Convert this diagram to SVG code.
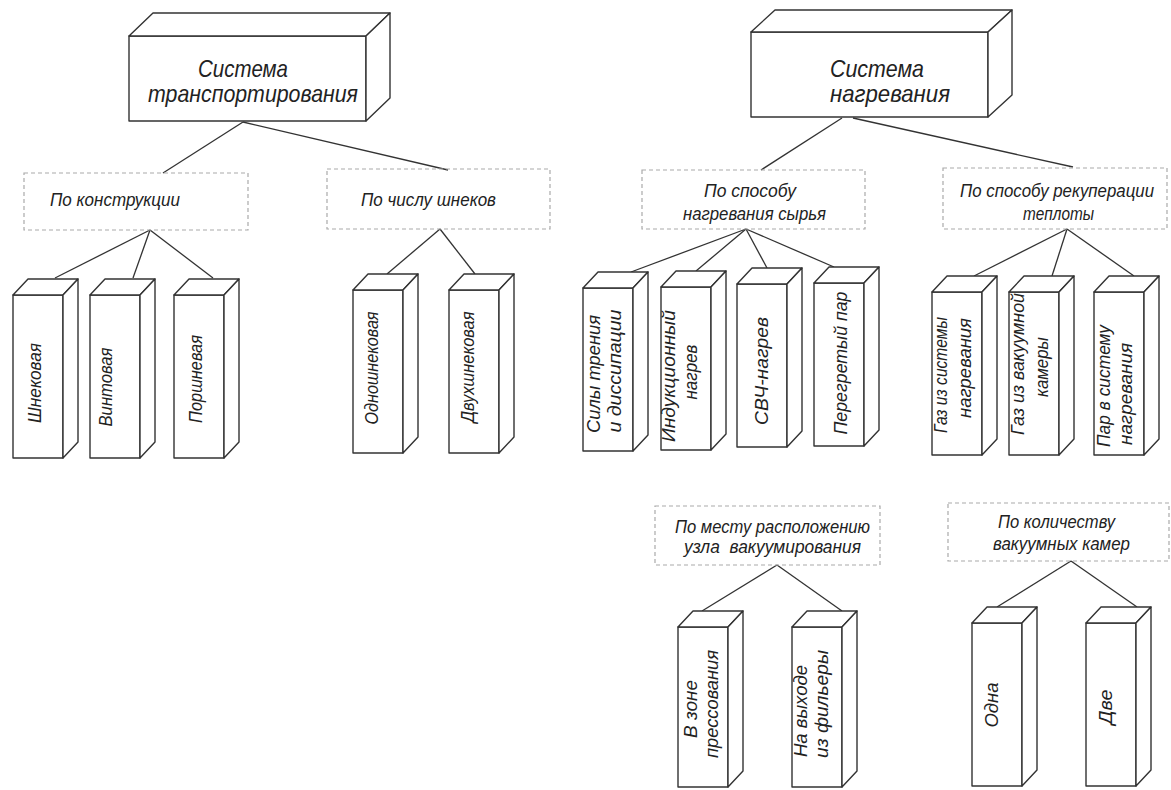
<svg xmlns="http://www.w3.org/2000/svg" width="1171" height="790" viewBox="0 0 1171 790">
<style>
.bx{fill:#fff;stroke:#333;stroke-width:1.4;stroke-linejoin:round}
.dash{fill:none;stroke:#aaa;stroke-width:1.2;stroke-dasharray:4 3}
.cn line{stroke:#333;stroke-width:1.3}
text{font-family:"Liberation Sans","DejaVu Sans",sans-serif;font-style:italic;fill:#222;text-anchor:middle}
.t1{font-size:24px}
.t2{font-size:18px}
.t3{font-size:18px}
</style>
<defs>
<g id="tb">
<rect class="bx" x="0" y="0" width="50" height="163"/>
<polygon class="bx" points="0,0 15,-16 65,-16 50,0"/>
<polygon class="bx" points="50,0 65,-16 65,147 50,163"/>
</g>
<g id="tbs">
<rect class="bx" x="0" y="0" width="50" height="160"/>
<polygon class="bx" points="0,0 15,-16 65,-16 50,0"/>
<polygon class="bx" points="50,0 65,-16 65,144 50,160"/>
</g>
</defs>
<g id="connectors" class="cn">
<line x1="243" y1="122" x2="163" y2="173"/>
<line x1="243" y1="122" x2="448" y2="170"/>
<line x1="150" y1="230" x2="55" y2="278"/>
<line x1="150" y1="230" x2="133" y2="278"/>
<line x1="150" y1="230" x2="213" y2="278"/>
<line x1="440" y1="229" x2="387" y2="274"/>
<line x1="440" y1="229" x2="475" y2="274"/>
<line x1="842" y1="118" x2="761" y2="170"/>
<line x1="853" y1="118" x2="1073" y2="167"/>
<line x1="746" y1="229" x2="631" y2="272"/>
<line x1="746" y1="229" x2="696" y2="271"/>
<line x1="746" y1="229" x2="767" y2="268"/>
<line x1="746" y1="229" x2="834" y2="267"/>
<line x1="1067" y1="229" x2="974" y2="276"/>
<line x1="1067" y1="229" x2="1052" y2="276"/>
<line x1="1067" y1="229" x2="1134" y2="276"/>
<line x1="777" y1="565" x2="702" y2="611"/>
<line x1="777" y1="565" x2="842" y2="611"/>
<line x1="1071" y1="561" x2="997" y2="607"/>
<line x1="1071" y1="561" x2="1137" y2="607"/>
</g>
<g id="sys-transport">
<rect class="bx" x="129" y="36" width="237" height="85"/>
<polygon class="bx" points="129,36 153,13 390,13 366,36"/>
<polygon class="bx" points="366,36 390,13 390,98 366,121"/>
<text class="t1" x="243" y="77" textLength="90" lengthAdjust="spacingAndGlyphs">Система</text>
<text class="t1" x="253" y="102" textLength="210" lengthAdjust="spacingAndGlyphs">транспортирования</text>
</g>
<g id="sys-heat">
<rect class="bx" x="751" y="32" width="237" height="85"/>
<polygon class="bx" points="751,32 775,10 1012,10 988,32"/>
<polygon class="bx" points="988,32 1012,10 1012,95 988,117"/>
<text class="t1" x="877" y="77" textLength="94" lengthAdjust="spacingAndGlyphs">Система</text>
<text class="t1" x="890" y="102" textLength="120" lengthAdjust="spacingAndGlyphs">нагревания</text>
</g>
<g id="cat-construction">
<rect class="dash" x="24" y="173" width="224" height="57"/>
<text class="t2" x="115" y="206" textLength="130" lengthAdjust="spacingAndGlyphs">По конструкции</text>
</g>
<g id="cat-screws">
<rect class="dash" x="327" y="169" width="223" height="60"/>
<text class="t2" x="428.5" y="206" textLength="135" lengthAdjust="spacingAndGlyphs">По числу шнеков</text>
</g>
<g id="cat-heating">
<rect class="dash" x="642" y="170" width="223" height="59"/>
<text class="t2" x="750" y="197" textLength="92" lengthAdjust="spacingAndGlyphs">По способу</text>
<text class="t2" x="754.5" y="220" textLength="143" lengthAdjust="spacingAndGlyphs">нагревания сырья</text>
</g>
<g id="cat-recuperation">
<rect class="dash" x="943" y="168" width="224" height="61"/>
<text class="t2" x="1057" y="197" textLength="194" lengthAdjust="spacingAndGlyphs">По способу рекуперации</text>
<text class="t2" x="1058.5" y="220" textLength="71" lengthAdjust="spacingAndGlyphs">теплоты</text>
</g>
<g id="cat-vacuum-place">
<rect class="dash" x="655" y="506" width="225" height="59"/>
<text class="t2" x="772.5" y="533" textLength="195" lengthAdjust="spacingAndGlyphs">По месту расположению</text>
<text class="t2" x="772.5" y="553" textLength="177" lengthAdjust="spacingAndGlyphs" xml:space="preserve">узла  вакуумирования</text>
</g>
<g id="cat-vacuum-count">
<rect class="dash" x="948" y="503" width="221" height="58"/>
<text class="t2" x="1056.5" y="528" textLength="117" lengthAdjust="spacingAndGlyphs">По количеству</text>
<text class="t2" x="1061.5" y="550" textLength="137" lengthAdjust="spacingAndGlyphs">вакуумных камер</text>
</g>
<g id="n-shnek"><use href="#tb" x="13" y="295"/><text class="t3" transform="translate(41,383) rotate(-90)" textLength="80" lengthAdjust="spacingAndGlyphs">Шнековая</text></g>
<g id="n-vint"><use href="#tb" x="90" y="295"/><text class="t3" transform="translate(112,387) rotate(-90)" textLength="79" lengthAdjust="spacingAndGlyphs">Винтовая</text></g>
<g id="n-porsh"><use href="#tb" x="174" y="295"/><text class="t3" transform="translate(202,379) rotate(-90)" textLength="88" lengthAdjust="spacingAndGlyphs">Поршневая</text></g>
<g id="n-odno"><use href="#tb" x="353" y="290"/><text class="t3" transform="translate(378,368) rotate(-90)" textLength="113" lengthAdjust="spacingAndGlyphs">Одношнековая</text></g>
<g id="n-dvuh"><use href="#tb" x="449" y="290"/><text class="t3" transform="translate(474,367) rotate(-90)" textLength="111" lengthAdjust="spacingAndGlyphs">Двухшнековая</text></g>
<g id="n-friction"><use href="#tb" x="583" y="288"/>
<text class="t3" transform="translate(600,374) rotate(-90)" textLength="118" lengthAdjust="spacingAndGlyphs">Силы трения</text>
<text class="t3" transform="translate(621,371) rotate(-90)" textLength="123" lengthAdjust="spacingAndGlyphs">и диссипации</text></g>
<g id="n-induction"><use href="#tb" x="661" y="287"/>
<text class="t3" transform="translate(675,376) rotate(-90)" textLength="132" lengthAdjust="spacingAndGlyphs">Индукционный</text>
<text class="t3" transform="translate(697,372) rotate(-90)" textLength="55" lengthAdjust="spacingAndGlyphs">нагрев</text></g>
<g id="n-svch"><use href="#tb" x="737" y="284"/>
<text class="t3" transform="translate(768,371) rotate(-90)" textLength="108" lengthAdjust="spacingAndGlyphs">СВЧ-нагрев</text></g>
<g id="n-steam"><use href="#tb" x="814" y="283"/>
<text class="t3" transform="translate(847,363) rotate(-90)" textLength="143" lengthAdjust="spacingAndGlyphs">Перегретый пар</text></g>
<g id="n-gas-heat"><use href="#tb" x="932" y="292"/>
<text class="t3" transform="translate(947,375) rotate(-90)" textLength="116" lengthAdjust="spacingAndGlyphs">Газ из системы</text>
<text class="t3" transform="translate(971,368) rotate(-90)" textLength="100" lengthAdjust="spacingAndGlyphs">нагревания</text></g>
<g id="n-gas-vac"><use href="#tb" x="1009" y="292"/>
<text class="t3" transform="translate(1024,364) rotate(-90)" textLength="142" lengthAdjust="spacingAndGlyphs">Газ из вакуумной</text>
<text class="t3" transform="translate(1048,367) rotate(-90)" textLength="60" lengthAdjust="spacingAndGlyphs">камеры</text></g>
<g id="n-steam-heat"><use href="#tb" x="1094" y="292"/>
<text class="t3" transform="translate(1110,386) rotate(-90)" textLength="122" lengthAdjust="spacingAndGlyphs">Пар в систему</text>
<text class="t3" transform="translate(1132,394) rotate(-90)" textLength="102" lengthAdjust="spacingAndGlyphs">нагревания</text></g>
<g id="n-press"><use href="#tbs" x="678" y="627"/>
<text class="t3" transform="translate(697,709) rotate(-90)" textLength="58" lengthAdjust="spacingAndGlyphs">В зоне</text>
<text class="t3" transform="translate(718,704) rotate(-90)" textLength="108" lengthAdjust="spacingAndGlyphs">прессования</text></g>
<g id="n-die"><use href="#tbs" x="792" y="627"/>
<text class="t3" transform="translate(807,711) rotate(-90)" textLength="92" lengthAdjust="spacingAndGlyphs">На выходе</text>
<text class="t3" transform="translate(828,704) rotate(-90)" textLength="108" lengthAdjust="spacingAndGlyphs">из фильеры</text></g>
<g id="n-one"><use href="#tb" x="972" y="623"/>
<text class="t3" transform="translate(998,705) rotate(-90)" textLength="45" lengthAdjust="spacingAndGlyphs">Одна</text></g>
<g id="n-two"><use href="#tb" x="1086" y="623"/>
<text class="t3" transform="translate(1112,707) rotate(-90)" textLength="35" lengthAdjust="spacingAndGlyphs">Две</text></g>
</svg>
